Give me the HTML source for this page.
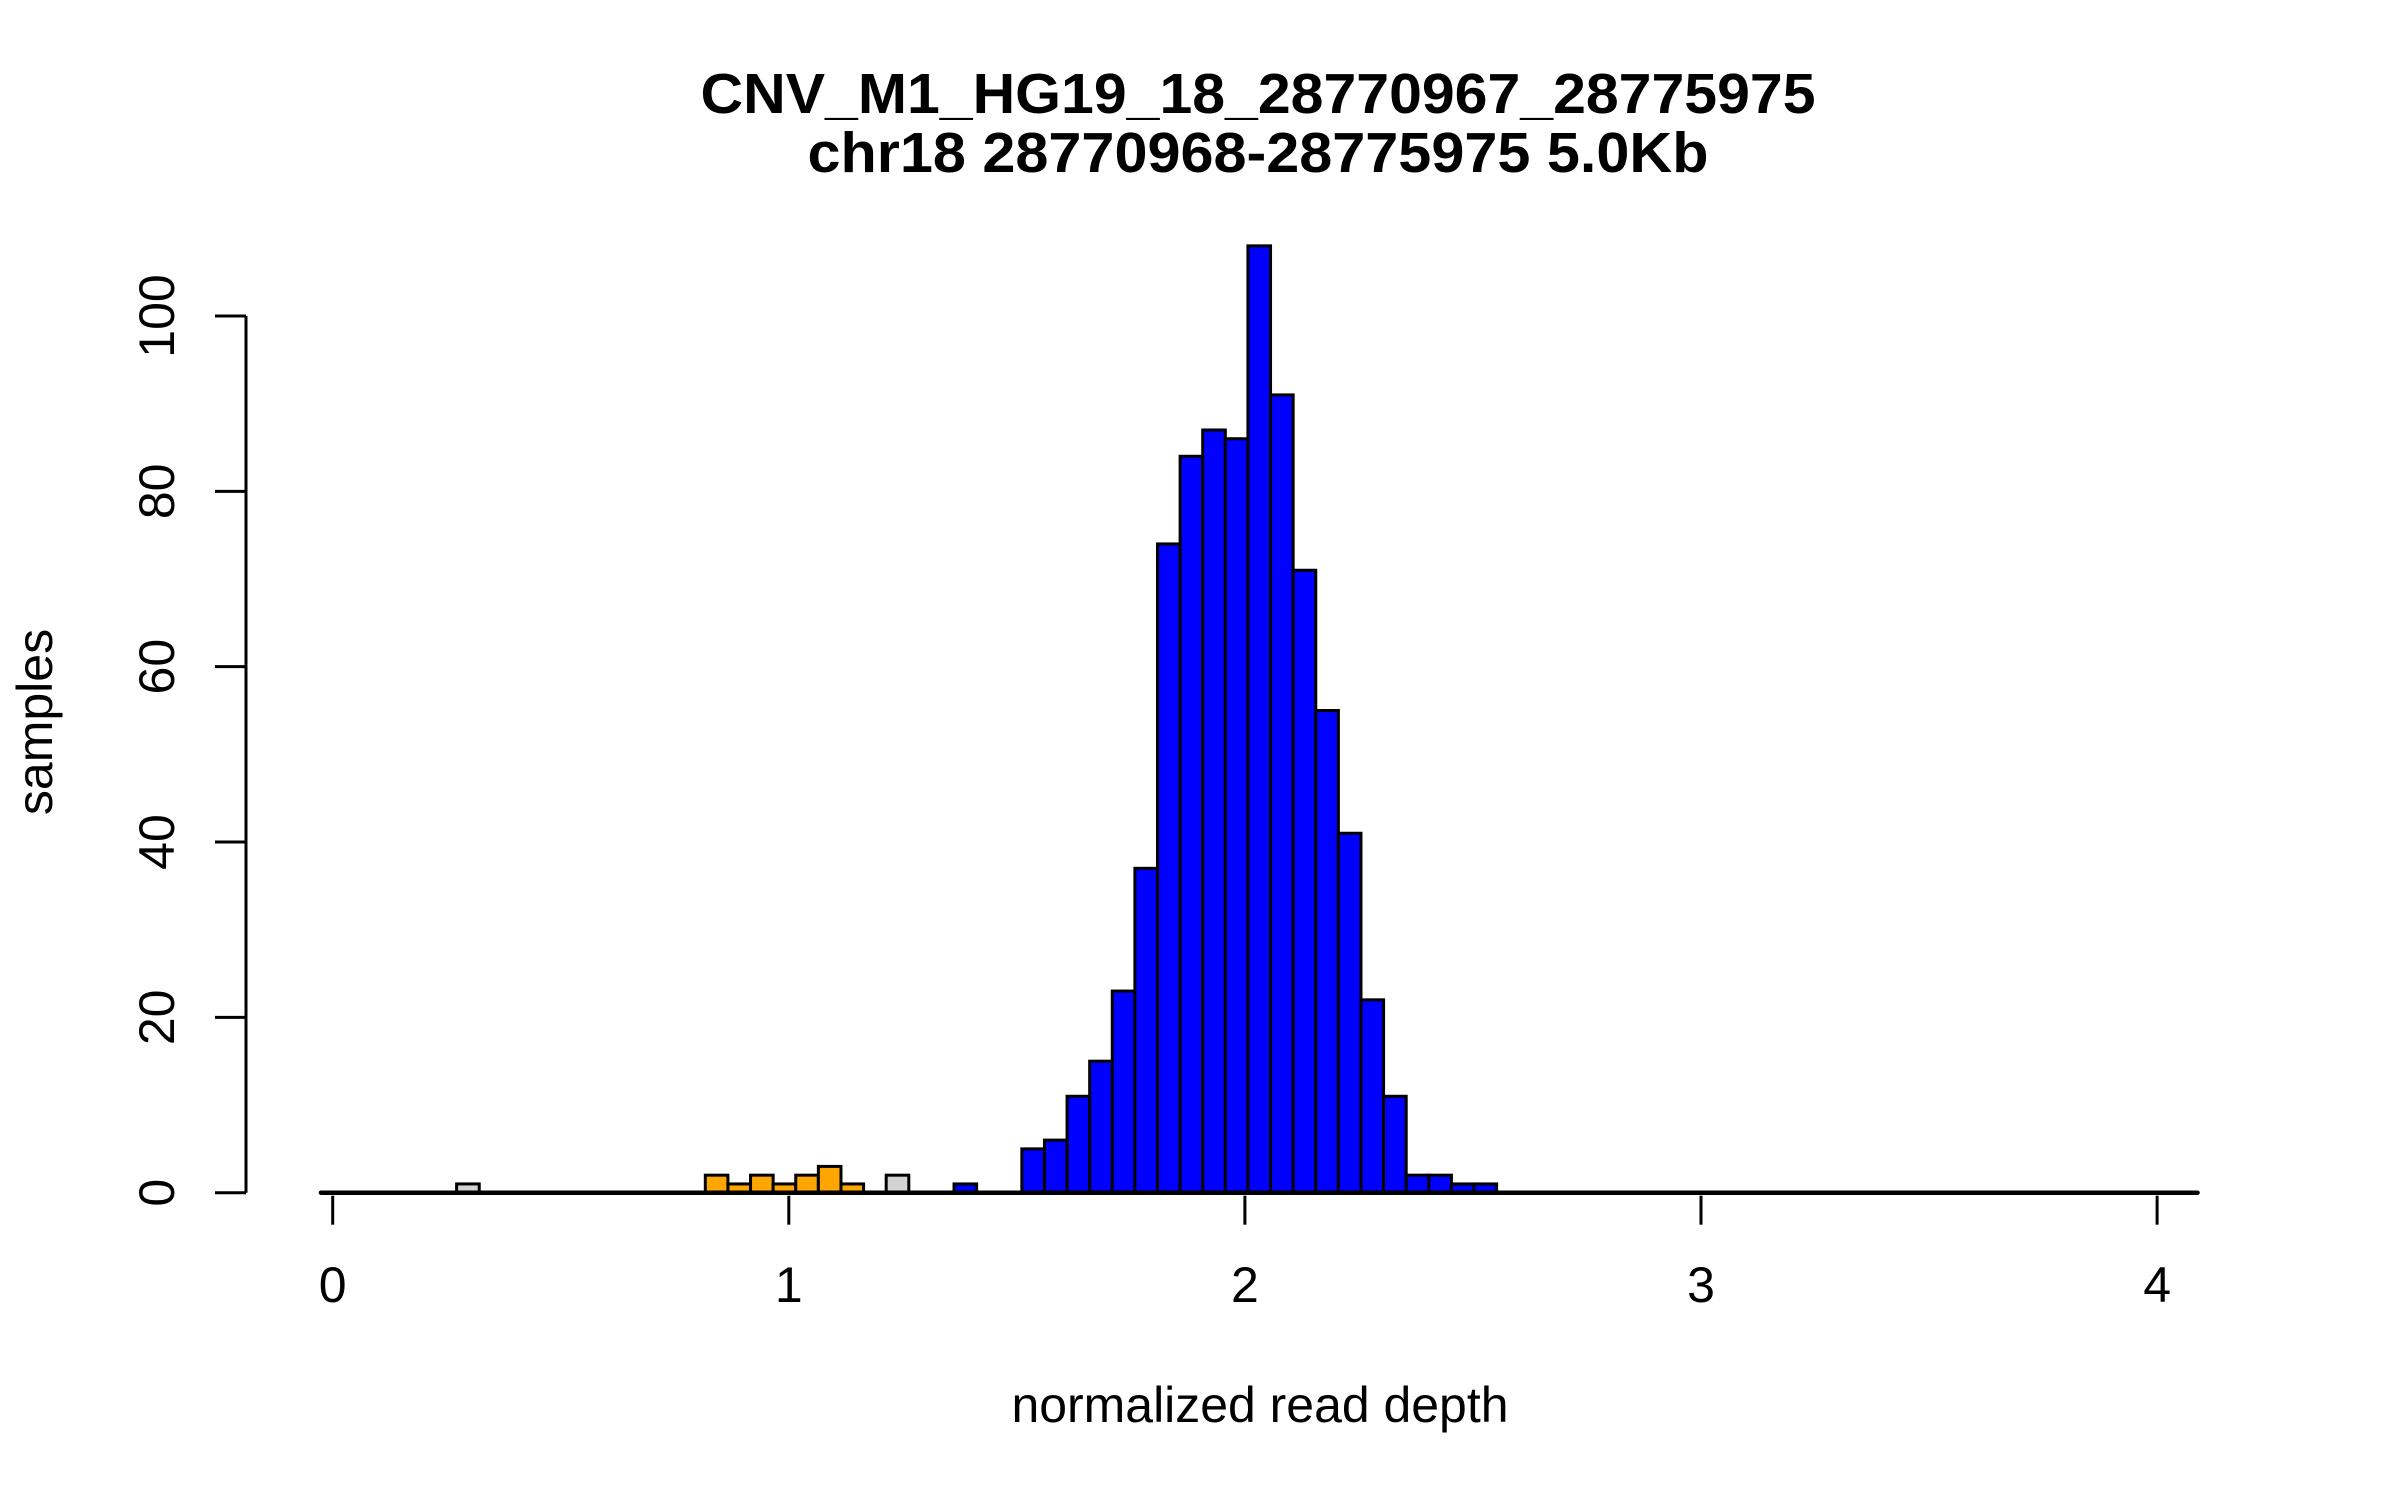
<!DOCTYPE html>
<html><head><meta charset="utf-8"><title>CNV histogram</title>
<style>html,body{margin:0;padding:0;background:#fff;}svg{display:block;}</style></head>
<body>
<svg id="chart" xmlns="http://www.w3.org/2000/svg" width="2400" height="1500" viewBox="0 0 2400 1500" font-family="'Liberation Sans', sans-serif">
<rect x="0" y="0" width="2400" height="1500" fill="#fff"/>
<text x="1258" y="113" text-anchor="middle" font-size="57" font-weight="bold" textLength="1115" lengthAdjust="spacingAndGlyphs">CNV_M1_HG19_18_28770967_28775975</text>
<text x="1258" y="172" text-anchor="middle" font-size="57" font-weight="bold" textLength="901" lengthAdjust="spacingAndGlyphs">chr18 28770968-28775975 5.0Kb</text>
<text x="1260" y="1422" text-anchor="middle" font-size="50" textLength="497" lengthAdjust="spacingAndGlyphs">normalized read depth</text>
<text transform="translate(52,722) rotate(-90)" text-anchor="middle" font-size="50">samples</text>
<g id="bars"></g>
<g id="axes"></g>
</svg>
<script>
const binStart = -0.02572;
const binWidth = 0.04957;
const counts = [0,0,0,0,0,0,1,0,0,0,0,0,0,0,0,0,0,2,1,2,1,2,3,1,0,2,0,0,1,0,0,
  5,6,11,15,23,37,74,84,87,86,108,91,71,55,41,22,11,2,2,1,1,
  0,0,0,0,0,0,0,0,0,0,0,0,0,0,0,0,0,0,0,0,0,0,0,0,0,0,0,0,0,0,0];
const categories = ["n","n","n","n","n","n","g","n","n","n","n","n","n","n","n","n","n","o","o","o","o","o","o","o","n","g","n","n","b","n","n",
  "b","b","b","b","b","b","b","b","b","b","b","b","b","b","b","b","b","b","b","b","b",
  "n","n","n","n","n","n","n","n","n","n","n","n","n","n","n","n","n","n","n","n","n","n","n","n","n","n","n","n","n","n","n"];
const xTicks = [0,1,2,3,4];
const xTickLabels = ["0","1","2","3","4"];
const yTicks = [0,20,40,60,80,100];
const yTickLabels = ["0","20","40","60","80","100"];

const NS = "http://www.w3.org/2000/svg";
function xs(v){ return 332.7 + v*456.1; }
function ys(c){ return 1192.7 - c*8.767; }
const fillFor = {b:"#0000ff", o:"#ffa500", g:"#d3d3d3", n:"none"};
const bars = document.getElementById("bars");
const axes = document.getElementById("axes");

counts.forEach(function(c, i){
  if (c <= 0) return;
  const x0 = xs(binStart + i*binWidth), x1 = xs(binStart + (i+1)*binWidth);
  const r = document.createElementNS(NS, "rect");
  r.setAttribute("x", x0); r.setAttribute("y", ys(c));
  r.setAttribute("width", x1 - x0); r.setAttribute("height", ys(0) - ys(c));
  r.setAttribute("fill", fillFor[categories[i]]);
  r.setAttribute("stroke", "#000"); r.setAttribute("stroke-width", "3");
  
  
  bars.appendChild(r);
});

const base = document.createElementNS(NS, "line");
base.setAttribute("x1", xs(binStart)); base.setAttribute("x2", xs(binStart + counts.length*binWidth));
base.setAttribute("y1", ys(0)); base.setAttribute("y2", ys(0));
base.setAttribute("stroke", "#000"); base.setAttribute("stroke-width", "4.5"); base.setAttribute("stroke-linecap", "round");


axes.appendChild(base);

xTicks.forEach(function(v, i){
  const t = document.createElementNS(NS, "line");
  t.setAttribute("x1", xs(v)); t.setAttribute("x2", xs(v));
  t.setAttribute("y1", ys(0) + 3); t.setAttribute("y2", ys(0) + 32);
  t.setAttribute("stroke", "#000"); t.setAttribute("stroke-width", "3");
  
  
  axes.appendChild(t);
  const l = document.createElementNS(NS, "text");
  l.setAttribute("x", xs(v)); l.setAttribute("y", 1302);
  l.setAttribute("text-anchor", "middle"); l.setAttribute("font-size", "50");
  l.textContent = xTickLabels[i];
  
  
  axes.appendChild(l);
});

const yAxis = document.createElementNS(NS, "line");
yAxis.setAttribute("x1", 246); yAxis.setAttribute("x2", 246);
yAxis.setAttribute("y1", ys(yTicks[0])); yAxis.setAttribute("y2", ys(yTicks[yTicks.length-1]));
yAxis.setAttribute("stroke", "#000"); yAxis.setAttribute("stroke-width", "3");


axes.appendChild(yAxis);

yTicks.forEach(function(v, i){
  const t = document.createElementNS(NS, "line");
  t.setAttribute("x1", 215); t.setAttribute("x2", 246);
  t.setAttribute("y1", ys(v)); t.setAttribute("y2", ys(v));
  t.setAttribute("stroke", "#000"); t.setAttribute("stroke-width", "3");
  
  
  axes.appendChild(t);
  const l = document.createElementNS(NS, "text");
  l.setAttribute("transform", "translate(174," + ys(v) + ") rotate(-90)");
  l.setAttribute("text-anchor", "middle"); l.setAttribute("font-size", "50");
  l.textContent = yTickLabels[i];
  
  
  axes.appendChild(l);
});
</script>
</body></html>
